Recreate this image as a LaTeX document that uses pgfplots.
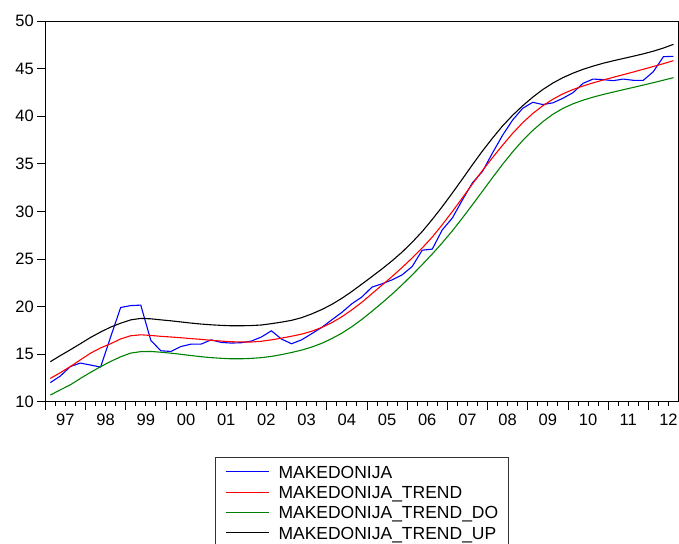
\documentclass[border=0pt]{standalone}
\usepackage{pgfplots}
\pgfplotsset{compat=1.18}
\usepackage{pgfplotstable}
\usepackage{fontspec}
\setmainfont{Liberation Sans}
\definecolor{evblue}{RGB}{0,0,255}
\definecolor{evred}{RGB}{255,0,0}
\definecolor{evgreen}{RGB}{0,128,0}
\pgfplotstableread{
i mk tr dn up
0 12.00 12.45 10.70 14.20
1 12.70 13.05 11.25 14.85
2 13.70 13.70 11.78 15.46
3 14.06 14.40 12.45 16.10
4 13.85 15.10 13.08 16.75
5 13.64 15.65 13.68 17.32
6 16.80 16.09 14.23 17.84
7 19.90 16.60 14.72 18.25
8 20.10 16.93 15.11 18.60
9 20.15 17.03 15.26 18.75
10 16.44 16.96 15.28 18.71
11 15.35 16.87 15.20 18.60
12 15.28 16.80 15.10 18.50
13 15.80 16.72 14.98 18.38
14 16.05 16.63 14.85 18.26
15 16.05 16.55 14.73 18.16
16 16.50 16.45 14.63 18.08
17 16.23 16.37 14.56 18.02
18 16.16 16.30 14.51 17.98
19 16.20 16.28 14.51 17.98
20 16.37 16.27 14.55 18.00
21 16.80 16.35 14.63 18.06
22 17.45 16.50 14.76 18.20
23 16.58 16.68 14.95 18.36
24 16.09 16.88 15.17 18.55
25 16.50 17.10 15.42 18.83
26 17.14 17.40 15.74 19.22
27 17.80 17.80 16.13 19.68
28 18.60 18.30 16.63 20.22
29 19.38 18.92 17.20 20.86
30 20.29 19.65 17.88 21.58
31 21.00 20.45 18.65 22.36
32 22.04 21.35 19.50 23.15
33 22.39 22.25 20.38 23.95
34 22.80 23.15 21.30 24.80
35 23.33 24.10 22.28 25.72
36 24.20 25.10 23.32 26.75
37 25.92 26.15 24.40 27.88
38 26.03 27.30 25.52 29.15
39 28.06 28.60 26.70 30.50
40 29.30 29.98 27.95 31.93
41 31.20 31.42 29.30 33.40
42 33.00 32.88 30.70 34.90
43 34.20 34.30 32.12 36.35
44 36.15 35.65 33.55 37.70
45 38.00 36.95 34.95 38.98
46 39.60 38.20 36.25 40.10
47 40.83 39.32 37.45 41.10
48 41.46 40.28 38.50 42.00
49 41.22 41.10 39.42 42.80
50 41.40 41.78 40.20 43.48
51 41.88 42.35 40.82 44.05
52 42.47 42.80 41.30 44.52
53 43.45 43.17 41.68 44.92
54 43.90 43.50 42.00 45.26
55 43.84 43.80 42.28 45.56
56 43.73 44.08 42.53 45.82
57 43.90 44.36 42.78 46.06
58 43.77 44.64 43.02 46.30
59 43.77 44.93 43.27 46.55
60 44.68 45.22 43.52 46.83
61 46.25 45.52 43.78 47.16
62 46.29 45.83 44.05 47.55
}\data
\begin{document}
\begin{tikzpicture}
\begin{axis}[
  at={(45.3bp,-401.7bp)}, anchor=south west,
  scale only axis, width=633.2bp, height=380.7bp,
  xmin=-0.5, xmax=62.5, ymin=10, ymax=50,
  axis line style={black, line width=0.8bp},
  tick pos=left, tick align=outside,
  major tick length=8bp, minor tick length=4.7bp,
  every tick/.style={black, line width=0.8bp},
  xtick={-0.5,3.5,...,59.5}, xticklabels={},
  minor xtick={0.5,1.5,...,61.5},
  extra x ticks={1.5,5.5,...,61.5},
  extra x tick labels={97,98,99,00,01,02,03,04,05,06,07,08,09,10,11,12},
  extra x tick style={major tick length=0pt, tick label style={yshift=-8.7bp}},
  ytick={10,15,...,50},
  /pgf/number format/assume math mode=true,
  tick label style={font=\fontsize{16.5bp}{19bp}\selectfont},
  legend cell align=left,
  legend image code/.code={\draw[#1] (0bp,1.75bp) -- (43bp,1.75bp);},
  legend style={at={(0.268,-0.146)}, anchor=north west,
    draw=black!80, line width=0.8bp,
    inner xsep=10bp, inner ysep=8bp, row sep=4.3bp, column sep=9bp,
    font=\fontsize{17.5bp}{21bp}\selectfont,
    nodes={inner sep=0pt, text height=12.5bp, text depth=3.5bp}},
]
\addplot[evblue, line width=1.1bp] table[x=i, y=mk] {\data};
\addlegendentry{MAKEDONIJA}
\addplot[evred, line width=1.1bp] table[x=i, y=tr] {\data};
\addlegendentry{MAKEDONIJA\_TREND}
\addplot[evgreen, line width=1.1bp] table[x=i, y=dn] {\data};
\addlegendentry{MAKEDONIJA\_TREND\_DO}
\addplot[black, line width=1.1bp] table[x=i, y=up] {\data};
\addlegendentry{MAKEDONIJA\_TREND\_UP}
\end{axis}
\pgfresetboundingbox
\path[use as bounding box] (0bp,-544bp) rectangle (679bp,0bp);
\end{tikzpicture}
\end{document}
